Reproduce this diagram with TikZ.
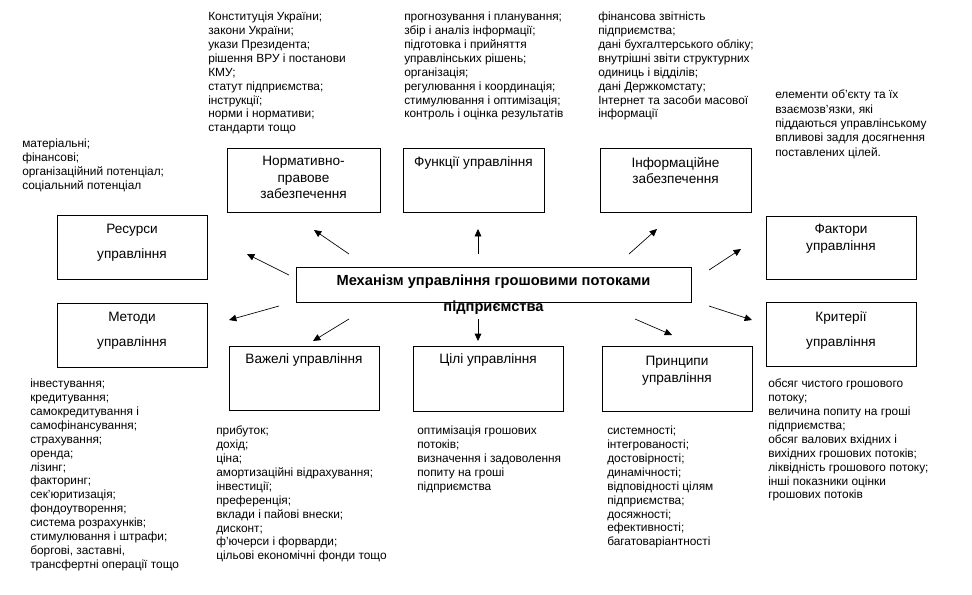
\documentclass[tikz,border=0pt]{standalone}
\usepackage{fontspec}
\setmainfont{Liberation Sans}
\usetikzlibrary{positioning,arrows.meta}

\begin{document}
\begin{tikzpicture}[x=0.75pt, y=-0.75pt,
        box/.style = {draw, line width=0.6pt, minimum width=112.5pt, minimum height=48pt, inner sep=0pt},
        lbl/.style = {font=\fontsize{10.2}{12.4}\selectfont, align=center, inner sep=0pt, anchor=north},
        lblwide/.style = {lbl, font=\fontsize{10.2}{18.8}\selectfont},
        list/.style = {font=\fontsize{8.9}{10.4}\selectfont, align=left, inner sep=0pt, anchor=north west},
        arr/.style = {-{Triangle[length=5.5pt,width=5pt]}, line width=0.5pt}]
        \useasboundingbox (0,0) rectangle (972,594);

        % boxes
        \node[box, minimum width=114.75pt] (norm) at (303.5,180) {};
        \node[box, minimum width=105.75pt] (func) at (473.5,180) {};
        \node[box, minimum width=113.25pt] (info) at (675.5,180) {};
        \node[box] (res) at (132,247) {};
        \node[box] (meth) at (132,335) {};
        \node[box, minimum height=47.25pt] (fact) at (841,247.5) {};
        \node[box] (crit) at (841,334) {};
        \node[box] (lev) at (304,378) {};
        \node[box, minimum height=48.75pt] (goal) at (488,378.5) {};
        \node[box, minimum height=48.75pt] (prin) at (677,378.5) {};
        \node[box, minimum width=296.25pt, minimum height=26.25pt] (mech) at (493.5,284.5) {};

        % box labels
        \node[lbl, below=6.5pt of norm.north] (normlbl) {Нормативно-\\правове\\забезпечення};
        \node[lbl, below=6.5pt of func.north] (funclbl) {Функції управління};
        \node[lbl, below=7pt of info.north] (infolbl) {Інформаційне\\забезпечення};
        \node[lblwide, below=7pt of res.north] (reslbl) {Ресурси\\управління};
        \node[lblwide, below=7pt of meth.north] (methlbl) {Методи\\управління};
        \node[lbl, below=6.5pt of fact.north] (factlbl) {Фактори\\управління};
        \node[lblwide, below=7.5pt of crit.north] (critlbl) {Критерії\\управління};
        \node[lbl, below=6pt of lev.north] (levlbl) {Важелі управління};
        \node[lbl, below=6pt of goal.north] (goallbl) {Цілі управління};
        \node[lbl, below=8pt of prin.north] (prinlbl) {Принципи\\управління};
        \node[lbl, font=\bfseries\fontsize{11}{19.5}\selectfont, below=6pt of mech.north] (mechlbl)
                {Механізм управління грошовими потоками\\підприємства};

        % lists
        \node[list] (normlist) at (208,12) {Конституція України;\\закони України;\\укази Президента;\\рішення ВРУ і постанови\\КМУ;\\статут підприємства;\\інструкції;\\норми і нормативи;\\стандарти тощо};
        \node[list] (funclist) at (404,12) {прогнозування і планування;\\збір і аналіз інформації;\\підготовка і прийняття\\управлінських рішень;\\організація;\\регулювання і координація;\\стимулювання і оптимізація;\\контроль і оцінка результатів};
        \node[list] (infolist) at (598,12) {фінансова звітність\\підприємства;\\дані бухгалтерського обліку;\\внутрішні звіти структурних\\одиниць і відділів;\\дані Держкомстату;\\Інтернет та засоби масової\\інформації};
        \node[list, font=\fontsize{8.9}{10.7}\selectfont] (factlist) at (775,90) {елементи об’єкту та їх\\взаємозв’язки, які\\піддаються управлінському\\впливові задля досягнення\\поставлених цілей.};
        \node[list, font=\fontsize{8.9}{10.5}\selectfont] (reslist) at (22,139) {матеріальні;\\фінансові;\\організаційний потенціал;\\соціальний потенціал};
        \node[list] (methlist) at (30,379) {інвестування;\\кредитування;\\самокредитування і\\самофінансування;\\страхування;\\оренда;\\лізинг;\\факторинг;\\сек’юритизація;\\фондоутворення;\\система розрахунків;\\стимулювання і штрафи;\\боргові, заставні,\\трансфертні операції тощо};
        \node[list] (levlist) at (216,426) {прибуток;\\дохід;\\ціна;\\амортизаційні відрахування;\\інвестиції;\\преференція;\\вклади і пайові внески;\\дисконт;\\ф’ючерси і форварди;\\цільові економічні фонди тощо};
        \node[list] (goallist) at (417,426) {оптимізація грошових\\потоків;\\визначення і задоволення\\попиту на гроші\\підприємства};
        \node[list] (prinlist) at (607,426) {системності;\\інтегрованості;\\достовірності;\\динамічності;\\відповідності цілям\\підприємства;\\досяжності;\\ефективності;\\багатоваріантності};
        \node[list] (critlist) at (768,379) {обсяг чистого грошового\\потоку;\\величина попиту на гроші\\підприємства;\\обсяг валових вхідних і\\вихідних грошових потоків;\\ліквідність грошового потоку;\\інші показники оцінки\\грошових потоків};

        % arrow ends
        \coordinate (s-norm) at (349,254); \coordinate (e-norm) at (314,230);
        \coordinate (s-res) at (289,275);  \coordinate (e-res) at (247,254);
        \coordinate (s-func) at (478,254); \coordinate (e-func) at (478,229);
        \coordinate (s-info) at (629,254); \coordinate (e-info) at (657,229);
        \coordinate (s-fact) at (709,270); \coordinate (e-fact) at (741,249);
        \coordinate (s-crit) at (709,306); \coordinate (e-crit) at (752,320);
        \coordinate (s-prin) at (635,319); \coordinate (e-prin) at (672,335);
        \coordinate (s-goal) at (478,319); \coordinate (e-goal) at (478,341);
        \coordinate (s-lev) at (349,319);  \coordinate (e-lev) at (313,341);
        \coordinate (s-meth) at (279,306); \coordinate (e-meth) at (229,320);

        \draw[arr] (s-norm) -- (e-norm);
        \draw[arr] (s-res) -- (e-res);
        \draw[arr] (s-func) -- (e-func);
        \draw[arr] (s-info) -- (e-info);
        \draw[arr] (s-fact) -- (e-fact);
        \draw[arr] (s-crit) -- (e-crit);
        \draw[arr] (s-prin) -- (e-prin);
        \draw[arr] (s-goal) -- (e-goal);
        \draw[arr] (s-lev) -- (e-lev);
        \draw[arr] (s-meth) -- (e-meth);
\end{tikzpicture}
\end{document}
